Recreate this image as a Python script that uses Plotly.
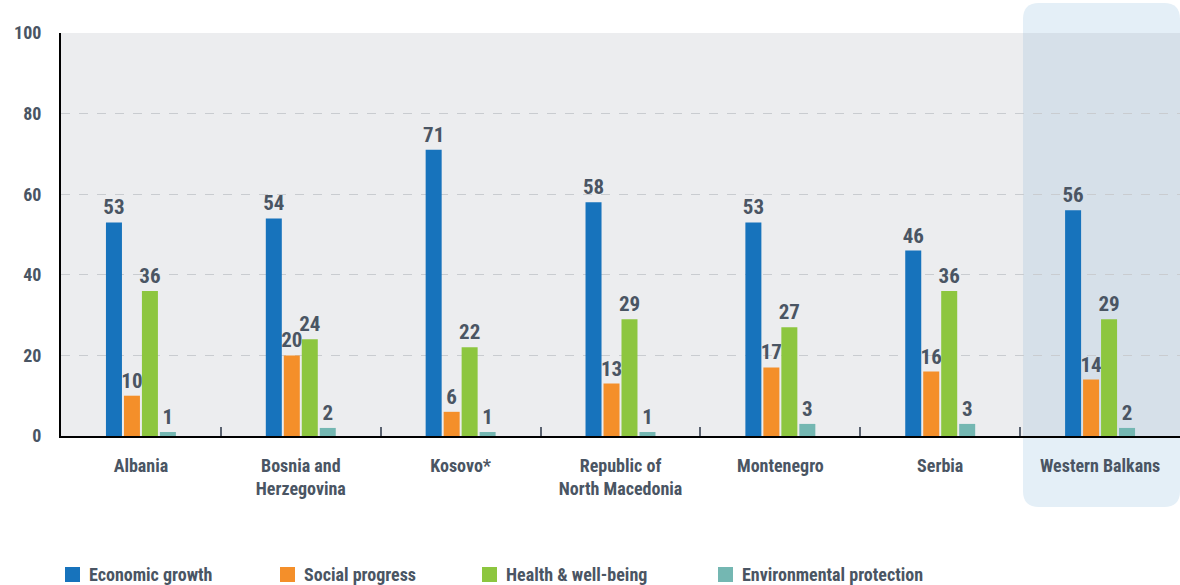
import plotly.graph_objects as go

# Share of respondents (%) by priority, per economy
countries = ["Albania", "Bosnia and<br>Herzegovina", "Kosovo*", "Republic of<br>North Macedonia",
             "Montenegro", "Serbia", "Western Balkans"]
economic_growth = [53, 54, 71, 58, 53, 46, 56]
social_progress = [10, 20, 6, 13, 17, 16, 14]
health_wellbeing = [36, 24, 22, 29, 27, 36, 29]
environmental_protection = [1, 2, 1, 1, 3, 3, 2]

series_names = ["Economic growth", "Social progress", "Health & well-being", "Environmental protection"]
series_values = [economic_growth, social_progress, health_wellbeing, environmental_protection]
series_colors = ["#1773BC", "#F48F2A", "#8DC63F", "#74B7B2"]

FONT = "Roboto Condensed, Noto Sans Condensed, Liberation Sans Narrow, Roboto, sans-serif"
TEXT = "#4A5563"

fig = go.Figure()
for name, vals, color in zip(series_names, series_values, series_colors):
    fig.add_trace(go.Bar(
        x=countries, y=vals, name=name,
        marker=dict(color=color, line=dict(width=0)),
        text=[str(v) for v in vals], textposition="outside",
        textfont=dict(family=FONT, size=21, color=TEXT, weight="bold"),
        constraintext="none", cliponaxis=False, showlegend=False,
    ))

W, H = 1180, 585
L, R, T, B = 61, 0, 33, 149
pw, ph = W - L - R, H - T - B


def px_x(x):
    return (x - L) / pw


def px_y(y):
    return (H - B - y) / ph


def rounded_rect(x0, y0, x1, y1, r):
    X0, X1 = px_x(x0), px_x(x1)
    Y0, Y1 = px_y(y0), px_y(y1)
    rx, ry = r / pw, r / ph
    return (f"M {X0 + rx},{Y0} L {X1 - rx},{Y0} Q {X1},{Y0} {X1},{Y0 - ry} "
            f"L {X1},{Y1 + ry} Q {X1},{Y1} {X1 - rx},{Y1} L {X0 + rx},{Y1} "
            f"Q {X0},{Y1} {X0},{Y1 + ry} L {X0},{Y0 - ry} Q {X0},{Y0} {X0 + rx},{Y0} Z")


shapes = [
    # highlight panel for the regional aggregate
    dict(type="path", xref="paper", yref="paper", layer="below",
         path=rounded_rect(1023, 3, 1180, 507, 16),
         fillcolor="#E4EFF7", line=dict(width=0)),
    # plot background
    dict(type="rect", xref="paper", yref="paper", layer="below",
         x0=0, x1=px_x(1023), y0=0, y1=1, fillcolor="#ECEDEF", line=dict(width=0)),
    dict(type="rect", xref="paper", yref="paper", layer="below",
         x0=px_x(1023), x1=1, y0=0, y1=1, fillcolor="#D6E0E9", line=dict(width=0)),
]

# legend row drawn beneath the axis
legend_square_x = [65, 280, 482, 718]
annotations = []
for name, color, sx in zip(series_names, series_colors, legend_square_x):
    shapes.append(dict(type="rect", xref="paper", yref="paper",
                       x0=px_x(sx), x1=px_x(sx + 15), y0=px_y(582), y1=px_y(567),
                       fillcolor=color, line=dict(width=0)))
    annotations.append(dict(xref="paper", yref="paper", x=px_x(sx + 22), y=px_y(574.5),
                            xanchor="left", yanchor="middle", showarrow=False, text=name,
                            font=dict(family=FONT, size=18, color=TEXT, weight="bold")))

fig.update_layout(
    width=W, height=H,
    margin=dict(l=L, r=R, t=T, b=B, autoexpand=False),
    paper_bgcolor="white", plot_bgcolor="rgba(0,0,0,0)",
    barmode="group", bargap=0.55, bargroupgap=0.11,
    font=dict(family=FONT, color=TEXT, size=18, weight="bold"),
    shapes=shapes, annotations=annotations,
    showlegend=False,
)
fig.update_xaxes(
    showline=True, linecolor="black", linewidth=2,
    tickson="boundaries", ticks="inside", ticklen=9, tickcolor="#5A6270", tickwidth=2,
    showgrid=False, ticklabelstandoff=12, tickangle=0, automargin=False,
    tickfont=dict(family=FONT, size=18, color=TEXT, weight="bold"),
)
fig.update_yaxes(
    range=[0, 100], tickvals=[0, 20, 40, 60, 80, 100],
    showline=True, linecolor="black", linewidth=2,
    showgrid=True, gridcolor="#C9CCD0", griddash="dash", gridwidth=1,
    zeroline=False, ticks="", ticklabelstandoff=14, automargin=False,
    tickfont=dict(family=FONT, size=18, color=TEXT, weight="bold"),
)

fig.write_html("out.html")
